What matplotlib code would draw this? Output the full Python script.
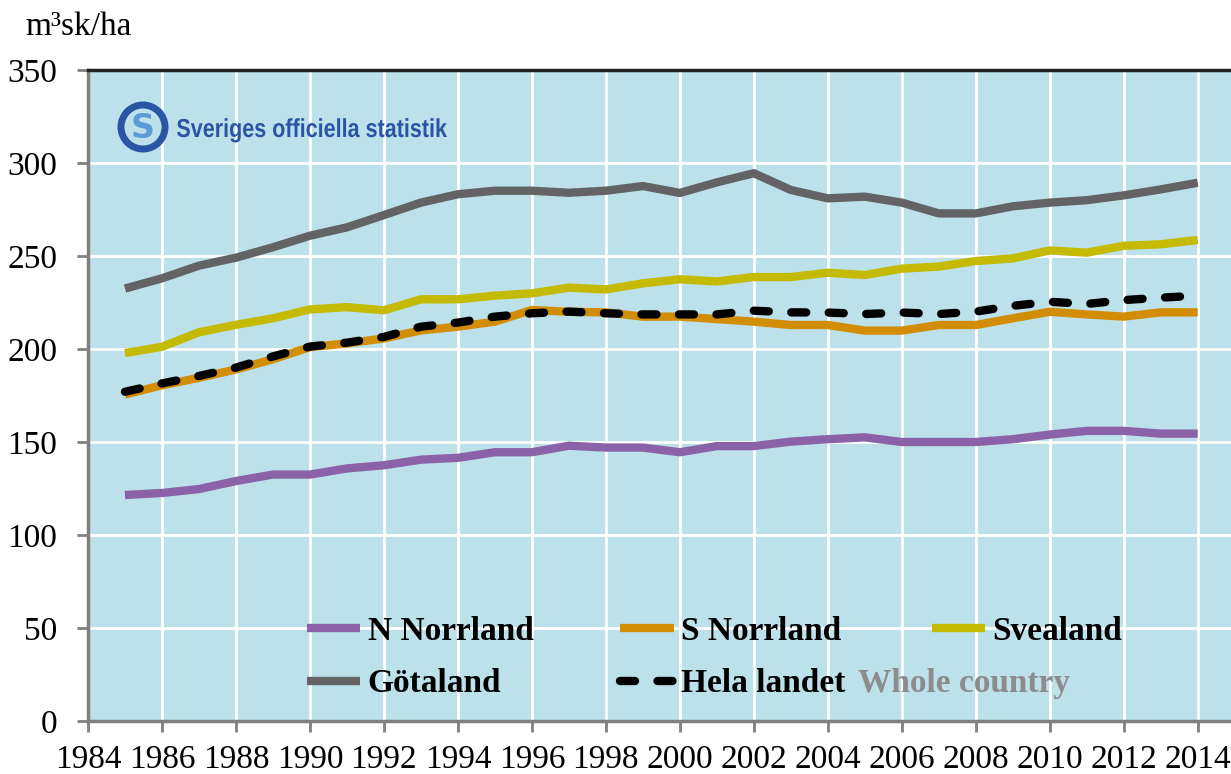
import matplotlib
matplotlib.use("Agg")
import matplotlib.pyplot as plt
from matplotlib.patches import Ellipse, PathPatch
from matplotlib.textpath import TextPath
from matplotlib.font_manager import FontProperties
from matplotlib.transforms import Affine2D

years = list(range(1985, 2015))
n_norrland = [121.5, 122.6, 124.7, 129, 132.5, 132.5, 135.8, 137.5, 140.5, 141.5, 144.5, 144.5, 148, 147, 147, 144.5,
              147.8, 147.8, 150.2, 151.5, 152.5, 150, 150, 150, 151.5, 154, 156, 156, 154.5, 154.5]
s_norrland = [175.5, 180.5, 184.5, 189, 194.5, 201, 203, 205.7, 210, 212, 214.7, 221, 220, 219.7, 217.4, 217.4,
              216.1, 214.7, 212.9, 212.9, 209.9, 209.9, 212.9, 212.9, 216.5, 220, 218.6, 217.4, 219.7, 219.7]
svealand = [197.8, 201.2, 209, 213, 216.5, 221.3, 222.5, 220.8, 226.7, 226.7, 228.7, 229.9, 233, 232, 235.3, 237.5,
            236.3, 238.7, 238.7, 241, 239.8, 243.2, 244.3, 247.3, 248.7, 253, 251.8, 255.5, 256.3, 258.6]
gotaland = [232.5, 238, 244.8, 249.1, 254.7, 260.9, 265.4, 272, 278.7, 283.2, 285.1, 285.1, 284, 285.1, 287.6, 283.9,
            289.6, 294.5, 285.5, 281, 281.9, 278.7, 272.9, 272.9, 276.7, 278.7, 280, 282.6, 285.8, 289.4]
hela_landet = [177, 181.5, 185.5, 190, 196, 201.3, 203.4, 206.5, 212, 214.2, 217.4, 219.2, 220.1, 219.2, 218.6, 218.6,
               218.6, 220.6, 219.7, 219.6, 218.8, 219.6, 218.8, 220.1, 223.2, 225.4, 224.2, 226.3, 227.6, 228.7]

xticks = list(range(1984, 2015, 2))

serif = "Liberation Serif"
fs = 24
fig = plt.figure(figsize=(12.31, 7.74), dpi=100)
ax = fig.add_axes([88 / 1231, 1 - 721 / 774, 1 - 88 / 1231, (721 - 70) / 774])
ax.set_facecolor("#bce1ea")

lw = 6
l_n, = ax.plot(years, n_norrland, color="#8b62a8", lw=lw, label="N Norrland", solid_capstyle="butt")
l_s, = ax.plot(years, s_norrland, color="#d38d05", lw=lw, label="S Norrland", solid_capstyle="butt")
l_sv, = ax.plot(years, svealand, color="#c4ba00", lw=lw, label="Svealand", solid_capstyle="butt")
l_g, = ax.plot(years, gotaland, color="#636366", lw=lw, label="Götaland", solid_capstyle="butt")
l_h, = ax.plot(years, hela_landet, color="black", lw=lw, ls=(0, (1.8, 2.7)), dash_capstyle="round",
               label="Hela landet")

ax.set_xlim(1984, 2014.9)
ax.set_ylim(0, 350)
ax.set_xticks(xticks)
ax.set_yticks(range(0, 351, 50))
ax.grid(True, color="white", lw=2)
ax.set_axisbelow(True)

for lab in ax.get_xticklabels() + ax.get_yticklabels():
    lab.set_fontfamily(serif)
    lab.set_fontsize(fs)
ax.tick_params(axis="both", direction="out", length=8, width=2, color="#808080")
ax.tick_params(axis="y", pad=14)
ax.tick_params(axis="x", pad=9)
ax.spines["left"].set_color("#808080")
ax.spines["left"].set_linewidth(2.5)
ax.spines["bottom"].set_color("#808080")
ax.spines["bottom"].set_linewidth(2.5)
ax.spines["top"].set_color("#222222")
ax.spines["top"].set_linewidth(2.5)
ax.spines["right"].set_visible(False)

fig.text(25 / 1231, 1 - 27 / 774, "m³sk/ha", family=serif, fontsize=fs, va="center", ha="left")

# legend filled column-wise -> reorder so rows read N, S, Svea / Göta, Hela
handles = [l_n, l_g, l_s, l_h, l_sv]
leg = ax.legend(handles, [h.get_label() for h in handles], ncol=3, loc="upper left",
                bbox_to_anchor=(0.1916, 0.162), frameon=False,
                prop={"family": serif, "weight": "bold", "size": fs},
                handlelength=1.6, handletextpad=0.22, columnspacing=2.6, labelspacing=0.65,
                borderpad=0, borderaxespad=0)
ax.text(0.6737, 0.045, "Whole country", transform=ax.transAxes, family=serif, weight="bold",
        fontsize=fs, color="#8c8c8c", va="baseline", ha="left")

# logo
ring = Ellipse((143 / 1231, 1 - 127 / 774), 44 / 1231, 44 / 774, transform=fig.transFigure,
               fill=False, ec="#2a55a5", lw=5)
fig.patches.append(ring)
fig.text(143 / 1231, 1 - 128 / 774, "S", family="DejaVu Sans", weight="bold", fontsize=24,
         color="#5b9bd5", ha="center", va="center")
tp = TextPath((0, 0), "Sveriges officiella statistik", size=26,
              prop=FontProperties(family="Liberation Sans", weight="bold"))
bb = tp.get_extents()
sx = 270 / bb.width
tr = Affine2D().translate(-bb.x0, 0).scale(sx, 1.0).translate(177, 774 - 137)
fig.patches.append(PathPatch(tp, transform=tr, fc="#2a55a5", ec="none"))

fig.savefig("out.png", dpi=100)
